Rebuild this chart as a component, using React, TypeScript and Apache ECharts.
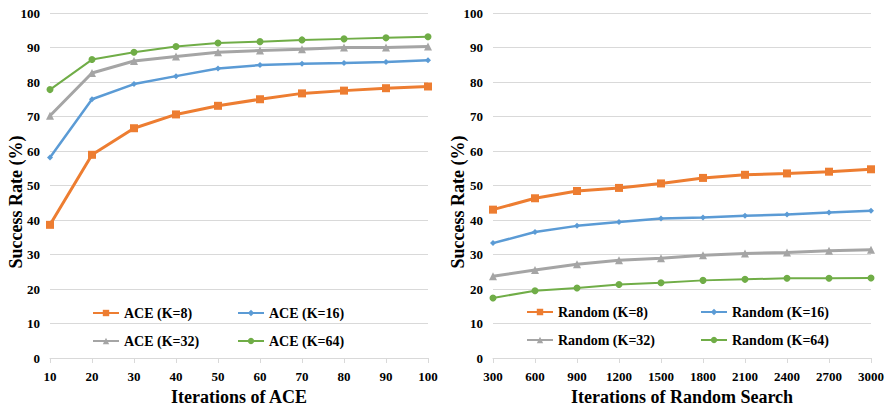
import React, { useEffect, useRef } from "react";
import * as echarts from "echarts";

const aceIters = [10, 20, 30, 40, 50, 60, 70, 80, 90, 100];
const aceK8 = [38.6, 58.9, 66.6, 70.6, 73.1, 75.0, 76.7, 77.5, 78.2, 78.7];
const aceK16 = [58.1, 75.0, 79.4, 81.7, 83.9, 84.9, 85.3, 85.5, 85.8, 86.3];
const aceK32 = [70.2, 82.6, 86.1, 87.4, 88.6, 89.1, 89.5, 90.0, 90.0, 90.3];
const aceK64 = [77.8, 86.5, 88.6, 90.3, 91.3, 91.7, 92.2, 92.5, 92.8, 93.1];

const rndIters = [300, 600, 900, 1200, 1500, 1800, 2100, 2400, 2700, 3000];
const rndK8 = [43.0, 46.3, 48.4, 49.3, 50.6, 52.2, 53.1, 53.5, 54.0, 54.7];
const rndK16 = [33.3, 36.5, 38.3, 39.4, 40.4, 40.7, 41.2, 41.6, 42.2, 42.7];
const rndK32 = [23.7, 25.5, 27.2, 28.3, 28.9, 29.8, 30.3, 30.6, 31.1, 31.4];
const rndK64 = [17.4, 19.5, 20.3, 21.3, 21.8, 22.5, 22.8, 23.1, 23.1, 23.2];

const aceNames = ["ACE (K=8)", "ACE (K=16)", "ACE (K=32)", "ACE (K=64)"];
const rndNames = ["Random (K=8)", "Random (K=16)", "Random (K=32)", "Random (K=64)"];
const yTitle = "Success Rate (%)";

const FONT = "Liberation Serif";
const colors = ["#ED7D31", "#5B9BD5", "#A5A5A5", "#70AD47"];
const symbols = ["rect", "diamond", "triangle", "circle"];
const symSizes = [8, 6, 8, 7];
const widths = [3, 2.5, 3, 2];

export default function App() {
  const ref = useRef<HTMLDivElement>(null);
  useEffect(() => {
    if (!ref.current) return;
    const chart = echarts.init(ref.current, undefined, { renderer: "svg" });
    const tickLabel = { fontFamily: FONT, fontWeight: "bold" as const, fontSize: 13, color: "#000" };
    const nameStyle = {
      fontFamily: FONT,
      fontWeight: "bold" as const,
      fontSize: 18,
      lineHeight: 18,
      color: "#000",
    };
    const mkX = (idx: number, min: number, max: number, interval: number, name: string) => ({
      type: "value",
      gridIndex: idx,
      min,
      max,
      interval,
      name,
      nameLocation: "middle",
      nameGap: 29,
      nameTextStyle: nameStyle,
      axisLine: { show: true, lineStyle: { color: "#d9d9d9", width: 1 } },
      axisTick: { show: true, length: 5, lineStyle: { color: "#d9d9d9" } },
      axisLabel: { ...tickLabel, margin: 12, formatter: (v: number) => String(v) },
      splitLine: { show: false },
    });
    const mkY = (idx: number) => ({
      type: "value",
      gridIndex: idx,
      min: 0,
      max: 100,
      interval: 10,
      axisLine: { show: false },
      axisTick: { show: false },
      axisLabel: { ...tickLabel, margin: 10 },
      splitLine: { show: true, lineStyle: { color: "#d9d9d9", width: 1 } },
    });
    const mkSeries = (names: string[], xs: number[], data: number[][], idx: number) =>
      names.map((n, i) => ({
        type: "line",
        name: n,
        xAxisIndex: idx,
        yAxisIndex: idx,
        data: xs.map((x, j) => [x, data[i][j]]),
        symbol: symbols[i],
        symbolSize: symSizes[i],
        itemStyle: { color: colors[i] },
        lineStyle: { color: colors[i], width: widths[i] },
        z: 10 - i,
      }));
    const legendPos = [
      [92, 306],
      [237, 306],
      [92, 334],
      [237, 334],
      [526, 305],
      [700, 305],
      [526, 333],
      [700, 333],
    ];
    const allNames = [...aceNames, ...rndNames];
    const legends = allNames.map((n, i) => ({
      data: [n],
      left: legendPos[i][0],
      top: legendPos[i][1],
      padding: 0,
      itemWidth: 26,
      itemHeight: 8,
      textStyle: { fontFamily: FONT, fontWeight: "bold" as const, fontSize: 14, color: "#000" },
      selectedMode: false,
    }));
    const yName = (x: number) => ({
      type: "text",
      x,
      y: 202,
      rotation: Math.PI / 2,
      style: {
        text: yTitle,
        font: `bold 18px ${FONT}`,
        fill: "#000",
        textAlign: "center",
        textVerticalAlign: "middle",
      },
    });
    chart.setOption({
      animation: false,
      backgroundColor: "#fff",
      textStyle: { fontFamily: FONT },
      grid: [
        { left: 50, right: 458, top: 13, bottom: 48, containLabel: false, outerBoundsMode: "none" },
        { left: 493, right: 15, top: 13, bottom: 48, containLabel: false, outerBoundsMode: "none" },
      ],
      xAxis: [
        mkX(0, 10, 100, 10, "Iterations of ACE"),
        mkX(1, 300, 3000, 300, "Iterations of Random Search"),
      ],
      yAxis: [mkY(0), mkY(1)],
      legend: legends,
      graphic: [yName(16), yName(458)],
      series: [
        ...mkSeries(aceNames, aceIters, [aceK8, aceK16, aceK32, aceK64], 0),
        ...mkSeries(rndNames, rndIters, [rndK8, rndK16, rndK32, rndK64], 1),
      ],
    });
    return () => chart.dispose();
  }, []);
  return (
    <div
      ref={ref}
      style={{ position: "fixed", left: 0, top: 0, width: 886, height: 406, background: "#fff" }}
    />
  );
}
